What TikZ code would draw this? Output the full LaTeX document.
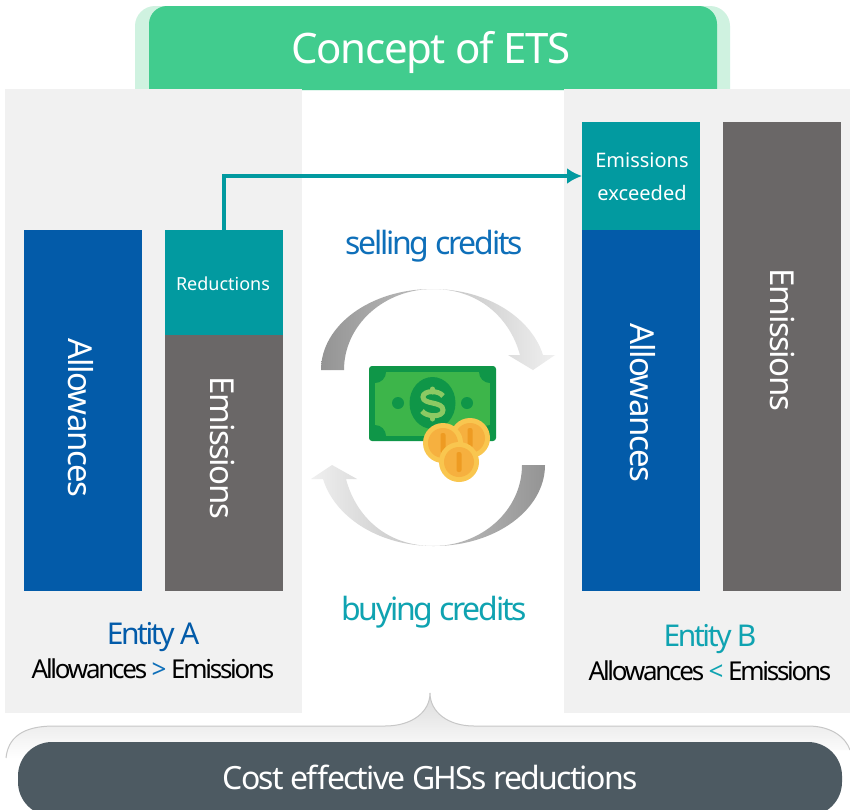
\documentclass[tikz,border=0pt]{standalone}
\usepackage{fontspec}
\setmainfont{Noto Sans}
\newfontfamily\tightT[LetterSpace=-3.4]{Noto Sans}
\newfontfamily\tightB[LetterSpace=-4.5]{Noto Sans}
\newfontfamily\tightG[LetterSpace=-5.5]{Noto Sans}
\newfontfamily\tightS[LetterSpace=-7]{Noto Sans}
\newfontfamily\tightE[LetterSpace=-8]{Noto Sans}
\newfontfamily\tightC[LetterSpace=-8.7]{Noto Sans}
\usetikzlibrary{calc,arrows.meta}
\definecolor{panelgray}{HTML}{F1F1F1}
\definecolor{navy}{HTML}{035BA9}
\definecolor{tealbar}{HTML}{029AA0}
\definecolor{slate}{HTML}{6A6767}
\definecolor{titlegreen}{HTML}{41CC8E}
\definecolor{titlelight}{HTML}{CFF2E0}
\definecolor{pill}{HTML}{4D5A62}
\definecolor{sellblue}{HTML}{0E6FB9}
\definecolor{buyteal}{HTML}{0FA3B1}
\definecolor{billdark}{HTML}{0F9648}
\definecolor{billlight}{HTML}{3DB54A}
\definecolor{dollarc}{HTML}{8CC963}
\definecolor{coinrim}{HTML}{F9C64F}
\definecolor{coinmid}{HTML}{F6B03F}
\definecolor{coinslot}{HTML}{EE9B22}
\tikzset{
  px/.style={x=1pt,y=-1pt},
  barbox/.style={draw=none,fill=#1,minimum width=118pt,inner sep=0pt,outer sep=0pt,anchor=north west},
  barlabel/.style={text=white,rotate=-90,inner sep=0pt,font=\fontsize{33}{33}\selectfont\tightB},
  smalllabel/.style={text=white,inner sep=0pt,font=\fontsize{18}{18}\selectfont},
  cornerlabel/.style={text=white,inner sep=0pt,anchor=base,font=\fontsize{20}{20}\selectfont},
  biglabel/.style={inner sep=0pt,anchor=base,font=\fontsize{32}{32}\selectfont\tightS},
  entity/.style={inner sep=0pt,anchor=base,font=\fontsize{30}{30}\selectfont\tightE},
  compare/.style={inner sep=0pt,anchor=base,text=black,font=\fontsize{26}{26}\selectfont\tightC},
}
\newcommand{\coinat}[2]{%
  \fill[coinrim] (#1,#2) circle[radius=20];
  \fill[coinmid] (#1,#2) circle[radius=15];
  \fill[coinslot,rounded corners=2pt] ($(#1,#2)+(-2.5,-10)$) rectangle ($(#1,#2)+(2.5,10)$);
}
\begin{document}
\begin{tikzpicture}[px]
\useasboundingbox (0,0) rectangle (850,809);
\fill[white] (0,0) rectangle (850,809);
% title tab
\fill[titlelight] (135,90) [rounded corners=20pt] -- (135,6) -- (730,6) [sharp corners] -- (730,90) -- cycle;
\fill[titlegreen] (149,90) [rounded corners=18pt] -- (149,6) -- (717,6) [sharp corners] -- (717,90) -- cycle;
\node[text=white,inner sep=0pt,anchor=base,font=\fontsize{42}{42}\selectfont\tightT] (title) at (431,63) {Concept of ETS};
% panels
\fill[panelgray] (5,89) rectangle (302,713);
\fill[panelgray] (564,89) rectangle (850,713);
% bars
\node[barbox=navy,minimum height=361pt] (allowA) at (24,230) {};
\node[barbox=tealbar,minimum height=105pt] (redu) at (165,230) {};
\node[barbox=slate,minimum height=256pt] (emisA) at (165,335) {};
\node[barbox=tealbar,minimum height=108pt] (exceed) at (582,122) {};
\node[barbox=navy,minimum height=361pt] (allowB) at (582,230) {};
\node[barbox=slate,minimum height=469pt] (emisB) at (723,122) {};
\node[barlabel] (tallowA) at (80.5,418) {Allowances};
\node[barlabel] (temisA) at (222,448) {Emissions};
\node[barlabel] (tallowB) at (643,403) {Allowances};
\node[barlabel] (temisB) at (782,340) {Emissions};
\node[smalllabel] (tredu) at (223,284) {Reductions};
\node[cornerlabel] (tex1) at (642,167) {Emissions};
\node[cornerlabel] (tex2) at (642,200) {exceeded};
% connector
\draw[tealbar,line width=3.5pt,-{Latex[length=15pt,width=16pt]}] (redu.north) |- (exceed.west);
% labels
\node[biglabel,text=sellblue] (sell) at (434,254) {selling credits};
\node[biglabel,text=buyteal] (buy) at (434,620) {buying credits};
\node[entity,text=navy] (entA) at (153,644) {Entity A};
\node[compare] (cmpA) at (153,678) {Allowances \textcolor{sellblue}{>} Emissions};
\node[entity,text=buyteal] (entB) at (710,646) {Entity B};
\node[compare] (cmpB) at (710,680) {Allowances \textcolor{buyteal}{<} Emissions};
% circular arrows
\shade[left color=black!42,middle color=black!28,right color=black!6]
  (321,370) .. controls (321,325.3) and (370.7,289) .. (432,289)
  .. controls (490,289) and (532,320) .. (543,355)
  -- (555,355) -- (533,370) -- (508,355) -- (520,355)
  .. controls (510,318) and (479,289) .. (433,289)
  .. controls (384,289) and (344,325) .. (344,370) -- cycle;
\shade[right color=black!42,middle color=black!28,left color=black!6]
  (545,465) .. controls (545,509.7) and (495.3,546) .. (434,546)
  .. controls (376,546) and (334,515) .. (323,479)
  -- (311,479) -- (332,465) -- (357,479) -- (346,479)
  .. controls (356,517) and (387,546) .. (433,546)
  .. controls (482,546) and (522,510) .. (522,465) -- cycle;
% bill
\fill[billdark,rounded corners=3pt] (369,366) rectangle (496,441);
\fill[billlight] (375,372) rectangle (490,436);
\begin{scope}
\clip (375,372) rectangle (490,436);
\fill[billdark] (375,372) circle[radius=11];
\fill[billdark] (490,372) circle[radius=11];
\fill[billdark] (375,436) circle[radius=11];
\fill[billdark] (490,436) circle[radius=11];
\end{scope}
\fill[billdark] (432.5,403) ellipse[x radius=23,y radius=26];
\fill[billdark] (398,403) circle[radius=6];
\fill[billdark] (467,403) circle[radius=6];
\draw[dollarc,line width=5pt]
  (443,396) .. controls (439,390) and (423,390) .. (423,397)
  .. controls (423,405) and (443,401) .. (443,410)
  .. controls (443,418) and (426,417) .. (422,411);
\draw[dollarc,line width=5pt,line cap=round] (432.5,389) -- (432.5,392);
\draw[dollarc,line width=5pt,line cap=round] (432.5,416) -- (432.5,419);
\coinat{470}{438}
\coinat{443}{443}
\coinat{459}{462}
% brace
\path[draw=black!22,line width=1pt,top color=black!14,bottom color=white]
  (6,758) .. controls (8,738) and (22,726) .. (54,726) -- (385,726)
  .. controls (412,726) and (430,712) .. (430,693)
  .. controls (430,712) and (448,726) .. (474,726) -- (808,726)
  .. controls (832,726) and (846,738) .. (850,750);
% pill
\begin{scope}
\clip (0,0) rectangle (850,809);
\node[fill=pill,minimum width=824pt,minimum height=74pt,rounded corners=34pt,inner sep=0pt] (goal) at (430,779) {};
\end{scope}
\node[text=white,inner sep=0pt,anchor=base,font=\fontsize{32}{32}\selectfont\tightG] (goaltext) at (430,789) {Cost effective GHSs reductions};
\end{tikzpicture}
\end{document}
